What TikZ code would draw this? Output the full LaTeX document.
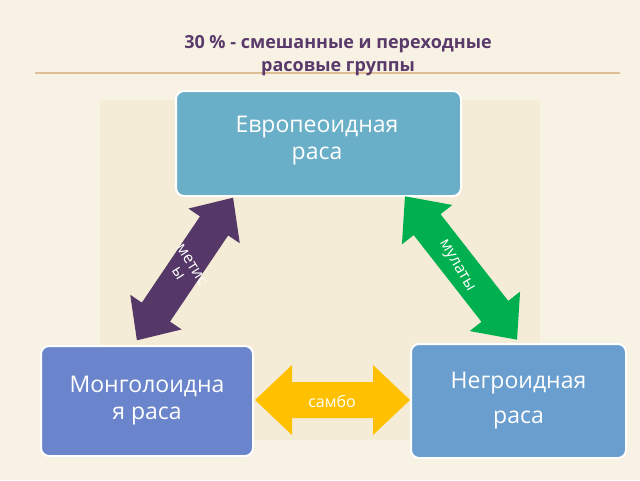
\documentclass[tikz,border=0pt]{standalone}
\usepackage{fontspec}
\setmainfont{Open Sans}
\definecolor{bg}{HTML}{F8F2E4}
\definecolor{bgin}{HTML}{F3E8CC}
\definecolor{ttl}{HTML}{5A3A6A}
\definecolor{euro}{HTML}{6AAFC8}
\definecolor{mong}{HTML}{6A85CC}
\definecolor{negr}{HTML}{6A9ECE}
\definecolor{purp}{HTML}{553768}
\definecolor{grn}{HTML}{00B050}
\definecolor{yel}{HTML}{FFC000}
\begin{document}
\begin{tikzpicture}[x=1pt,y=-1pt,
  box/.style={draw=white,line width=2pt,rounded corners=8pt,text=white,font=\fontsize{23}{27}\selectfont,align=center,inner sep=0pt},
  lbl/.style={text=white,font=\fontsize{16}{16}\selectfont,align=center}]
\fill[bg] (0,0) rectangle (640,480);
\fill[bgin,opacity=0.5] (100,100) rectangle (540,440);
\draw[color=brown!40!bgin,line width=1.2pt] (35,73) -- (620,73);
\node[text=ttl,font=\bfseries\fontsize{18}{23}\selectfont,align=center] (title) at (338,56) {30 \% - смешанные и переходные\\расовые группы};
\node[box,fill=euro,minimum width=285,minimum height=105,anchor=north west] (eu) at (175,90) {};
\node[text=white,font=\fontsize{23}{27}\selectfont,align=center,anchor=north] (eut) at (317,113) {Европеоидная\\раса};
\node[box,fill=mong,minimum width=212,minimum height=110,anchor=north west] (mo) at (40,345) {Монголоидна\\я раса};
\node[box,fill=negr,minimum width=215,minimum height=114,anchor=north west] (ne) at (410,343) {Негроидная\\[8pt]раса};
% purple arrow
\begin{scope}[shift={(185,269)},rotate=56]
\fill[purp] (-86,0) -- (-52,31) -- (-52,17) -- (52,17) -- (52,31) -- (86,0) -- (52,-31) -- (52,-17) -- (-52,-17) -- (-52,-31) -- cycle;
\end{scope}
\node[lbl,rotate=-58] (mett) at (185,269) {метис\\ы};
% green arrow
\begin{scope}[shift={(461,268)},rotate=-52]
\fill[grn] (-91,0) -- (-55,32) -- (-55,17) -- (55,17) -- (55,32) -- (91,0) -- (55,-32) -- (55,-17) -- (-55,-17) -- (-55,-32) -- cycle;
\end{scope}
\node[lbl,rotate=-60] (mult) at (456,266) {мулаты};
% yellow arrow
\fill[yel] (255,400) -- (292,365) -- (292,382) -- (373,382) -- (373,365) -- (410,400) -- (373,435) -- (373,418) -- (292,418) -- (292,435) -- cycle;
\node[lbl] (samt) at (332,401) {самбо};
\end{tikzpicture}
\end{document}
